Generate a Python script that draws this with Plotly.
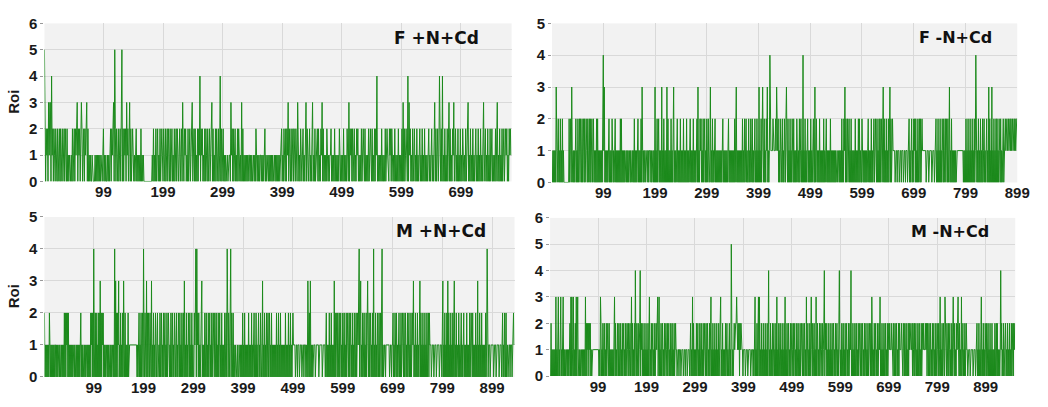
import plotly.graph_objects as go

F_POS = (
    "5202120313" "3041202102" "1020120201" "2012021020" "1010010201"
    "2021230212" "0232012021" "2302010100" "1000010101" "0101010012"
    "0101001010" "1202123052" "0210201202" "5020212031" "2023020121"
    "0101201010" "1020101000" "0000000000" "0102010201" "2010201210"
    "2102012021" "0201201020" "1202101202" "2031021201" "0201201230"
    "1202010202" "1402120102" "0210201201" "2302010202" "1020140201"
    "2010101101" "1103120201" "2010202101" "0302010101" "0101101010"
    "1101021010" "1011010101" "2010110101" "0101011010" "1010101120"
    "1021020213" "0210201202" "1020032010" "2101201023" "0210120102"
    "3010201120" "2010213020" "1010210101" "1201010201" "0101021010"
    "1020101021" "0302120201" "2010212010" "1020121020" "1010201210"
    "2010202140" "1010102010" "1020121002" "1202101020" "1010201010"
    "2030201210" "4031201020" "1201020101" "2010201020" "1010120101"
    "2010130201" "2014102040" "1020102013" "0201021301" "2010201020"
    "1021010201" "2301020102" "0101201020" "1020102301" "2010201020"
    "1201010201" "3010201020" "1201212010" "2121"
)
F_NEG = (
    "1010101031" "0120102010" "2010000000" "0002012031" "0101012010"
    "2012021020" "1202012102" "0120201201" "2010102020" "1010101024"
    "1301010101" "2010102101" "0120101010" "1020201010" "1011010101"
    "1010110102" "0101012010" "1020310101" "1011101011" "1010110103"
    "0102012010" "1030102010" "1030201010" "2010130101" "0120101020"
    "1010201010" "2010101201" "0102010101" "2030102120" "1020120102"
    "0120013010" "2010120101" "0101010102" "2010101010" "1201010101"
    "0102013010" "1010101020" "1020120100" "2010210201" "0120102010"
    "3010201310" "2010213010" "1411111211" "1121311201" "0210120102"
    "1023102010" "2010210201" "0102101020" "1201040102" "0101201010"
    "2010120030" "1201010201" "0101020101" "2010101020" "1010101010"
    "1101101010" "2010213020" "1201201020" "1010102010" "1020201002"
    "1010101010" "1201010201" "0120121020" "1020201201" "3020102010"
    "2023020121" "1110111011" "1011101110" "1110111011" "2010120102"
    "1202010201" "2020121111" "1110111101" "1111011110" "1120102010"
    "2010210201" "2021020130" "1020101010" "1011111111" "1111101010"
    "2010201020" "1020102014" "2010201020" "1020120102" "2010302010"
    "3010201020" "2010210201" "0120122122" "1221221212" "2122121222"
)
M_POS = (
    "2010101010" "2101010101" "0110101011" "0101101010" "2020212020"
    "1010101011" "0101101010" "1012010101" "1010110101" "0102120204"
    "1020201020" "2030202120" "1010110101" "0110101101" "0403020213"
    "0102010203" "1020101020" "1111111111" "1111110101" "2010201204"
    "1020030202" "1020030102" "0102101201" "1020120102" "0120102012"
    "1010201201" "0210120102" "1020102012" "0301020102" "1020102010"
    "0212404120" "2010213010" "1020120102" "0120102012" "1021020102"
    "0120102010" "1020120420" "2102402102" "0100100010" "0100101020"
    "1020101010" "2010102010" "1201020101" "2010210030" "1020102012"
    "0120102010" "1010102010" "2010201010" "1010201010" "2010201012"
    "1111011101" "1101111011" "1011101003" "1020301010" "1111011111"
    "1011111101" "1111012010" "1020102010" "1030201202" "1020120102"
    "0120102012" "1020120102" "0102102012" "1240230102" "0120102013"
    "1020120102" "0401020102" "1020120240" "1011101111" "1110111011"
    "2010210201" "0120102012" "1020120102" "0120102012" "1301020102"
    "0102302010" "2010201020" "1202111011" "1101111011" "1110111102"
    "3010201020" "3020102010" "2013010201" "1020101201" "0120101020"
    "1010201210" "2010102010" "3010201020" "1010102014" "1011101111"
    "1101111011" "1110111101" "2010210201" "1011101110" "1121"
)
M_NEG = (
    "0020101010" "1030102301" "0230102301" "0101101010" "1203031030"
    "1020301301" "1010110101" "0103020212" "0212010111" "1111111111"
    "1010320102" "0120102012" "1020101010" "1013020102" "1020120102"
    "0120102012" "1020120130" "2010204102" "1020124021" "2010201020"
    "1020130102" "0120102012" "1230230102" "0120102012" "1020120102"
    "0120102012" "1101110111" "0111101110" "1110111101" "2010302010"
    "1020120102" "0120102012" "1020120102" "0230102010" "2010201020"
    "1230102010" "1020120102" "2010520102" "2122232121" "2021211101"
    "1110111101" "1111011110" "1023010201" "3030102010" "2010201020"
    "1401020102" "0120102030" "1020120102" "0102030102" "0120102012"
    "1020120102" "0120102012" "1020120103" "0120102013" "1020120103"
    "0120102012" "1020124021" "2010201020" "1020120102" "0120102410"
    "1020120102" "0120102012" "1401020102" "0120102012" "1020120102"
    "0120102012" "1020320102" "0120102012" "1301020102" "0120102012"
    "1211121102" "1020120102" "0211121102" "1020120102" "0212111202"
    "1020120102" "0120102012" "1211121202" "1020120102" "0120102012"
    "1020130102" "0120031102" "1020120102" "0231020102" "1231020103"
    "0120102012" "1101111011" "1110111101" "1201020102" "3010201021"
    "0201201020" "1020101020" "1202010101" "4120102012" "2010201020"
    "1020120212"
)

TITLES = ["F +N+Cd", "F -N+Cd", "M +N+Cd", "M -N+Cd"]
SERIES = [F_POS, F_NEG, M_POS, M_NEG]
Y_MAX = [6, 5, 5, 6]
X_MAX = [784, 899, 944, 960]
X_TICKS = [
    [99, 199, 299, 399, 499, 599, 699],
    [99, 199, 299, 399, 499, 599, 699, 799, 899],
    [99, 199, 299, 399, 499, 599, 699, 799, 899],
    [99, 199, 299, 399, 499, 599, 699, 799, 899],
]

W, H = 1048, 407
# plot-area pixel boxes (left, right, top, bottom)
BOXES = [(45, 518, 15, 180), (559, 1030, 15, 181), (45, 521, 217, 384), (557, 1028, 218, 383)]
TITLE_POS = [(442, 30), (967, 30), (447, 232), (962, 232)]
TITLE_SIZE = [17, 16, 17, 16]

TICK_FONT = "Liberation Sans, Arial, sans-serif"
TITLE_FONT = "DejaVu Sans, sans-serif"
GREEN = "#1c8a1c"

fig = go.Figure()
for i, (s, title) in enumerate(zip(SERIES, TITLES)):
    vals = [int(c) for c in s]
    n = i + 1
    xa = "x" if n == 1 else f"x{n}"
    ya = "y" if n == 1 else f"y{n}"
    fig.add_trace(go.Scatter(x=list(range(len(vals))), y=vals, mode="lines",
                             line=dict(color=GREEN, width=1), xaxis=xa, yaxis=ya,
                             showlegend=False, hoverinfo="skip"))
    l, r, t, b = BOXES[i]
    xk = "xaxis" if n == 1 else f"xaxis{n}"
    yk = "yaxis" if n == 1 else f"yaxis{n}"
    fig.layout[xk] = dict(domain=[l / W, r / W], anchor=ya, range=[0, X_MAX[i]],
                          tickvals=X_TICKS[i], ticktext=[str(v) for v in X_TICKS[i]],
                          showgrid=True, gridcolor="#d9d9d9", gridwidth=1,
                          zeroline=False, showline=False, ticks="",
                          tickfont=dict(family=TICK_FONT, size=15, color="#1a1a1a", weight="bold"))
    fig.layout[yk] = dict(domain=[1 - b / H, 1 - t / H], anchor=xa, range=[0, Y_MAX[i]],
                          dtick=1, showgrid=True, gridcolor="#d9d9d9", gridwidth=1,
                          zeroline=False, showline=False, ticks="outside", ticklen=3,
                          tickcolor="#999999",
                          tickfont=dict(family=TICK_FONT, size=15, color="#1a1a1a", weight="bold"))
    tx, ty = TITLE_POS[i]
    fig.add_annotation(text=title, x=tx / W, y=1 - ty / H, xref="paper", yref="paper",
                       showarrow=False, xanchor="center", yanchor="middle",
                       font=dict(family=TITLE_FONT, size=TITLE_SIZE[i], color="#111111", weight="bold"))

for ycen in (97, 300):
    fig.add_annotation(text="Roi", x=14 / W, y=1 - ycen / H, xref="paper", yref="paper",
                       showarrow=False, textangle=-90, xanchor="center", yanchor="middle",
                       font=dict(family=TICK_FONT, size=15, color="#1a1a1a", weight="bold"))

fig.update_layout(width=W, height=H, margin=dict(l=0, r=0, t=0, b=0),
                  paper_bgcolor="white", plot_bgcolor="#f2f2f2")
fig.write_html("out.html")
